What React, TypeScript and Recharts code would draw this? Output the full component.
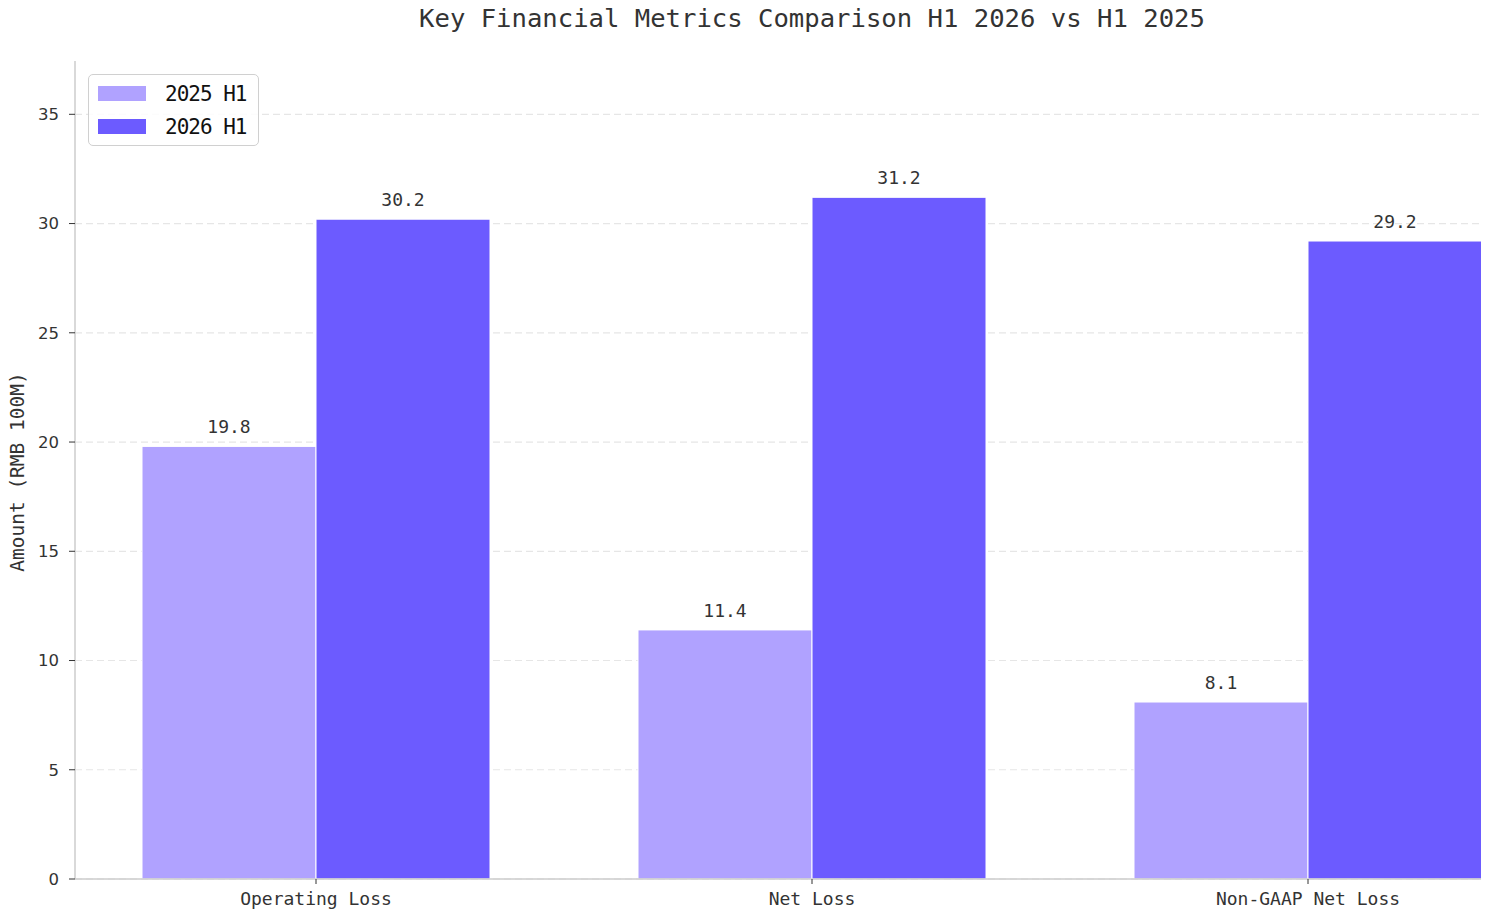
import React from "react";
import {
  BarChart,
  Bar,
  XAxis,
  YAxis,
  CartesianGrid,
  Legend,
  LabelList,
} from "recharts";

const categories = ["Operating Loss", "Net Loss", "Non-GAAP Net Loss"];
const h1_2025 = [19.8, 11.4, 8.1];
const h1_2026 = [30.2, 31.2, 29.2];
const yTicks = [0, 5, 10, 15, 20, 25, 30, 35];

const data = categories.map((name, i) => ({
  name,
  y2025: h1_2025[i],
  y2026: h1_2026[i],
}));

const MONO = "'DejaVu Sans Mono', monospace";
const SANS = "'DejaVu Sans', sans-serif";

const LegendBox = ({ payload }: any) => (
  <div
    style={{
      width: 171,
      height: 72,
      boxSizing: "border-box",
      border: "1.5px solid #d0d0d0",
      borderRadius: 5,
      background: "rgba(255,255,255,0.85)",
      padding: "2px 0 0 9px",
    }}
  >
    {(payload || []).map((p: any) => (
      <div
        key={p.value}
        style={{ display: "flex", alignItems: "center", height: 33 }}
      >
        <span
          style={{
            display: "inline-block",
            width: 48,
            height: 15,
            background: p.color,
            marginRight: 19,
          }}
        />
        <span
          style={{
            fontFamily: MONO,
            fontSize: 21,
            letterSpacing: -1,
            color: "#111",
          }}
        >
          {p.value}
        </span>
      </div>
    ))}
  </div>
);

const YLabel = (props: any) => {
  const vb = props.viewBox || { y: 61, height: 818 };
  const cy = vb.y + vb.height / 2 + 2;
  return (
    <text
      x={17}
      y={cy}
      transform={`rotate(-90, 17, ${cy})`}
      textAnchor="middle"
      dominantBaseline="central"
      fontFamily={MONO}
      fontSize={19.5}
      fill="#333"
    >
      Amount (RMB 100M)
    </text>
  );
};

export default function App() {
  return (
    <div
      style={{
        position: "relative",
        margin: -8,
        width: 1489,
        height: 917,
        overflow: "hidden",
        background: "#fff",
      }}
    >
      <div
        style={{
          position: "absolute",
          left: 75,
          width: 1474,
          top: 4,
          textAlign: "center",
          fontFamily: MONO,
          fontSize: 25.6,
          lineHeight: "28px",
          color: "#333",
        }}
      >
        Key Financial Metrics Comparison H1 2026 vs H1 2025
      </div>
      <BarChart
        width={1562}
        height={917}
        data={data}
        margin={{ top: 61, right: 13, bottom: 0, left: 0 }}
        barCategoryGap={74}
        barGap={0}
      >
        <CartesianGrid
          vertical={false}
          horizontalValues={yTicks}
          stroke="#e6e6e6"
          strokeDasharray="7 4"
          strokeWidth={1.2}
        />
        <XAxis
          dataKey="name"
          height={38}
          padding={{ left: -7, right: -7 }}
          axisLine={{ stroke: "#cccccc", strokeWidth: 1.5 }}
          tickLine={{ stroke: "#333" }}
          tickSize={5}
          tickMargin={8}
          tick={{ fontFamily: MONO, fontSize: 18, fill: "#333" }}
          interval={0}
        />
        <YAxis
          width={75}
          domain={[0, 37.44]}
          ticks={yTicks}
          allowDataOverflow
          axisLine={{ stroke: "#cccccc", strokeWidth: 1.5 }}
          tickLine={{ stroke: "#333" }}
          tickSize={6}
          tickMargin={10}
          tick={{ fontFamily: SANS, fontSize: 16.5, fill: "#333" }}
          label={{ content: YLabel }}
        />
        <Legend
          layout="vertical"
          align="center"
          verticalAlign="middle"
          wrapperStyle={{ top: 74, left: 88, width: "auto", height: "auto" }}
          content={LegendBox}
        />
        <Bar
          dataKey="y2025"
          name="2025 H1"
          fill="#b0a2ff"
          stroke="#ffffff"
          strokeWidth={1}
          isAnimationActive={false}
        >
          <LabelList
            dataKey="y2025"
            position="top"
            offset={13}
            fontFamily={MONO}
            fontSize={18}
            fill="#333"
          />
        </Bar>
        <Bar
          dataKey="y2026"
          name="2026 H1"
          fill="#6c5bff"
          stroke="#ffffff"
          strokeWidth={1}
          isAnimationActive={false}
        >
          <LabelList
            dataKey="y2026"
            position="top"
            offset={13}
            fontFamily={MONO}
            fontSize={18}
            fill="#333"
          />
        </Bar>
      </BarChart>
    </div>
  );
}
